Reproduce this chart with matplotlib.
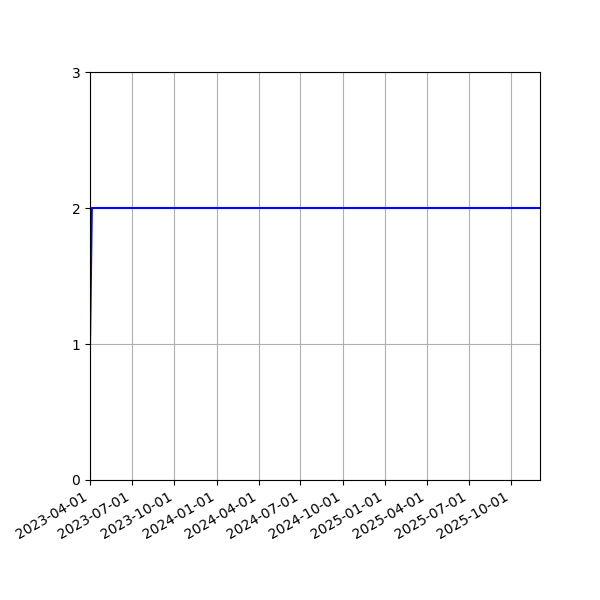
import datetime as dt
import matplotlib
matplotlib.use('Agg')
import matplotlib.pyplot as plt
import matplotlib.dates as mdates

# values
dates = [dt.date(2023, 4, 1), dt.date(2023, 4, 5), dt.date(2025, 12, 3)]
values = [1, 2, 2]
yticks = [0, 1, 2, 3]

fig, ax = plt.subplots(figsize=(6, 6), dpi=100)
ax.plot(dates, values, color='blue')

ax.set_xlim(dates[0], dates[-1])
ax.set_ylim(0, 3)
ax.set_yticks(yticks)
ax.xaxis.set_major_locator(mdates.MonthLocator(bymonth=[1, 4, 7, 10], bymonthday=1))
ax.xaxis.set_major_formatter(mdates.DateFormatter('%Y-%m-%d'))
ax.grid(True)
fig.autofmt_xdate()
fig.subplots_adjust(left=0.15, right=0.9, top=0.88, bottom=0.2)

plt.savefig('out.png')
